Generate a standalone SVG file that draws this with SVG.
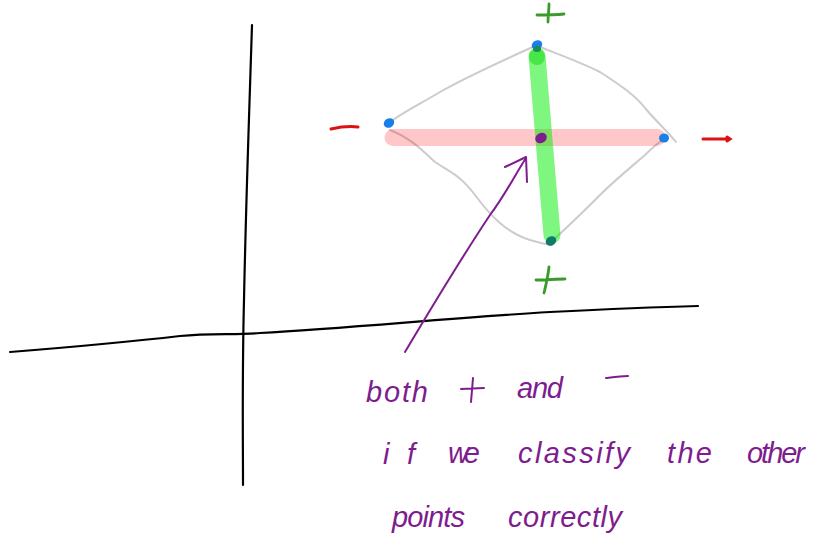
<svg xmlns="http://www.w3.org/2000/svg" width="815" height="541" viewBox="0 0 815 541">
<style>
.ax{fill:none;stroke:#000;stroke-width:2.2;stroke-linecap:round;stroke-linejoin:round}
.hull{fill:none;stroke:#cccccc;stroke-width:2;stroke-linecap:round;stroke-linejoin:round}
.red{fill:none;stroke:#dd1111;stroke-width:3;stroke-linecap:round}
.grn{fill:none;stroke:#3a9a2a;stroke-width:2.8;stroke-linecap:round}
.pur{fill:none;stroke:#7e1d8e;stroke-width:2;stroke-linecap:round;stroke-linejoin:round}
.blue{fill:#1a7fe6}
.t{font-family:"Liberation Sans",Arial,sans-serif;font-size:29px;font-style:italic;fill:#7e1d8e}
</style>
<rect width="815" height="541" fill="#ffffff"/>
<g id="axes">
<path class="ax" d="M252,25 C249,120 246,200 244,300 C242,380 243,440 243,485"/>
<path class="ax" d="M10,352 C60,348 120,343 180,336 C210,333 235,335 260,333 C350,328 450,318 550,312 C610,309 660,307 698,306"/>
</g>
<g id="hull">
<path class="hull" d="M537,45 C500,62 470,75 440,92 C420,104 400,114 389,123"/>
<path class="hull" d="M540,47 C560,55 580,62 600,72 C620,85 635,95 645,108 C655,120 668,132 676,142"/>
<path class="hull" d="M390,130 C410,138 420,148 435,162 C450,172 460,175 475,195 C490,215 505,232 530,240 C540,243 548,245 552,244"/>
<path class="hull" d="M553,240 C570,225 585,210 600,195 C615,180 630,168 645,155 C652,148 658,143 664,139"/>
</g>
<g id="pos-neg-bands">
<line x1="393" y1="137.5" x2="657" y2="137.5" stroke="#ff0000" stroke-opacity="0.22" stroke-width="17" stroke-linecap="round"/>
<line x1="537" y1="56" x2="552" y2="235" stroke="#00ee00" stroke-opacity="0.5" stroke-width="17" stroke-linecap="round"/>
<circle cx="537" cy="57" r="8" fill="#22dd22" fill-opacity="0.6"/>
</g>
<g id="points">
<ellipse class="blue" cx="389" cy="123" rx="5.5" ry="4.5" transform="rotate(-30 389 123)"/>
<ellipse class="blue" cx="664" cy="138" rx="5" ry="4.5"/>
<ellipse cx="537" cy="45" rx="5.5" ry="4.5" fill="#1a7fe6" transform="rotate(-30 537 45)"/>
<ellipse cx="551" cy="241" rx="5.5" ry="4.5" fill="#117a6a" transform="rotate(-30 551 241)"/>
<ellipse cx="537" cy="49" rx="4" ry="3" fill="#1d8a5a"/>
<ellipse cx="541" cy="138" rx="6" ry="5" fill="#7e1d8e" transform="rotate(-30 541 138)"/>
</g>
<g id="labels">
<path class="red" d="M331,129 C340,127 350,126 358,127"/>
<path class="red" d="M703,139 L730,139 M727,137 L730,139 L727,141"/>
<path class="grn" d="M537,15 C546,15 555,15 564,14 M549,4 C549,10 548,16 548,22"/>
<path class="grn" d="M536,280 C546,280 556,279 565,279 M549,267 C548,276 546,285 544,293"/>
</g>
<g id="arrow">
<path class="pur" d="M405,352 C430,310 460,260 490,215 C505,195 515,175 526,158"/>
<path class="pur" d="M505,167 L526,157 L527,182"/>
</g>
<g id="note">
<text class="t" x="366" y="402" textLength="62" lengthAdjust="spacing">both</text>
<path class="pur" d="M461,389 L484,388 M473,378 L471,402"/>
<text class="t" x="517" y="398" textLength="46" lengthAdjust="spacing">and</text>
<path class="pur" d="M606,378 C614,377 621,376 628,376"/>
<text class="t" x="383" y="464" textLength="32" lengthAdjust="spacing">if</text>
<text class="t" x="448" y="463" textLength="32" lengthAdjust="spacing">we</text>
<text class="t" x="518" y="463" textLength="112" lengthAdjust="spacing">classify</text>
<text class="t" x="667" y="463" textLength="45" lengthAdjust="spacing">the</text>
<text class="t" x="747" y="463" textLength="58" lengthAdjust="spacing">other</text>
<text class="t" x="392" y="527" textLength="73" lengthAdjust="spacing">points</text>
<text class="t" x="508" y="527" textLength="114" lengthAdjust="spacing">correctly</text>
</g>
</svg>
